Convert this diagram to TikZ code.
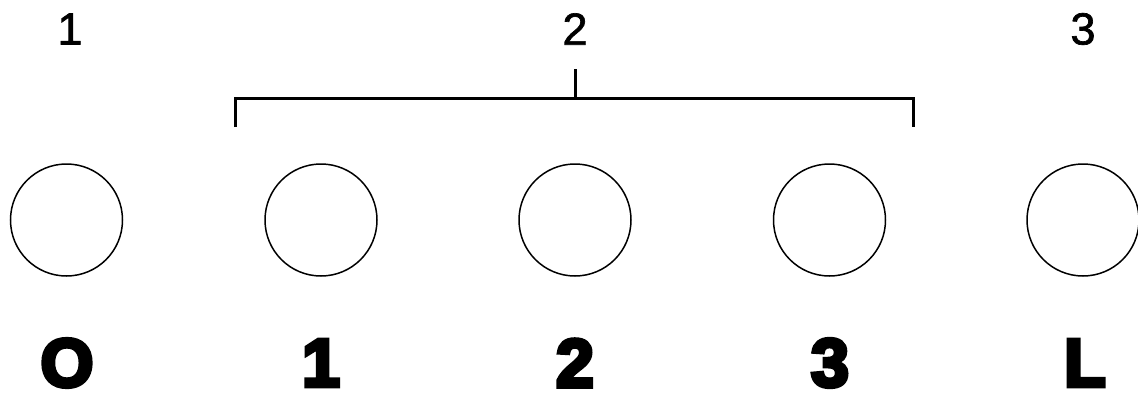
\documentclass[tikz,border=0pt]{standalone}
\usepackage{fontspec}
\setmainfont{Liberation Sans}
\newfontfamily\heavyfont[FakeBold=6]{Liberation Sans}
\newfontfamily\topfont[FakeBold=1.5]{Liberation Sans}
\tikzset{
  slot/.style={circle, draw, line width=1.5pt, minimum size=112pt, inner sep=0pt},
  toplbl/.style={inner sep=0pt, font=\topfont\fontsize{45}{45}\selectfont},
  botlbl/.style={inner sep=0pt, font=\heavyfont\bfseries\fontsize{68}{68}\selectfont},
  brk/.style={line width=3pt}
}
\begin{document}
\begin{tikzpicture}[x=1pt,y=-1pt]
\useasboundingbox (0,0) rectangle (1138,394);
\foreach \i/\x in {0/66.5,1/321,2/575,3/829.5,4/1083}{
  \node[slot] (c\i) at (\x,220) {};
}
\node[toplbl] (t1) at (70,29) {1};
\node[toplbl] (t2) at (575,29) {2};
\node[toplbl] (t3) at (1083,29) {3};
\node[botlbl] (b0) at (67,363) {O};
\node[botlbl] (b1) at (321,363) {1};
\node[botlbl] (b2) at (575,363) {2};
\node[botlbl] (b3) at (830,363) {3};
\node[botlbl] (b4) at (1085,363) {L};
\coordinate (bl) at (235,127);
\coordinate (br) at (913,127);
\coordinate (bm) at (575,98);
\coordinate (bt) at (575,69);
\draw[brk] (bl) |- (bm) -| (br);
\draw[brk] (bm) -- (bt);
\end{tikzpicture}
\end{document}
